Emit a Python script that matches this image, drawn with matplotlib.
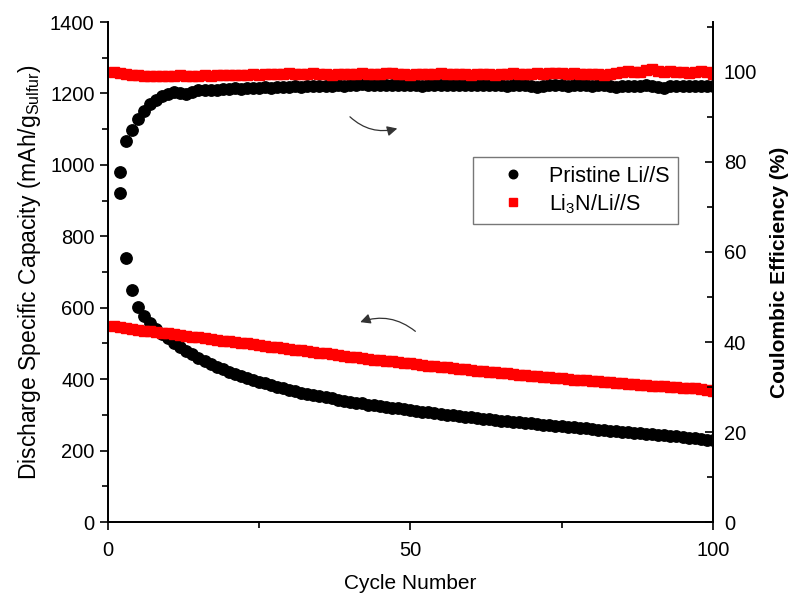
import matplotlib
matplotlib.use("Agg")
from matplotlib import pyplot as plt
from matplotlib.ticker import MultipleLocator
import numpy as np

plt.rcParams['font.family'] = ['Liberation Sans', 'DejaVu Sans']
plt.rcParams['mathtext.fontset'] = 'custom'
plt.rcParams['mathtext.rm'] = 'Liberation Sans'
plt.rcParams['mathtext.it'] = 'Liberation Sans'

# capacity (mAh/g) - pristine starts at cycle 2
pristine_cap = [980, 740, 650, 603, 578, 558, 541, 527, 514, 502, 491, 480, 470, 460, 451,
                443, 435, 428, 421, 415, 409, 403, 398, 393, 388, 383, 378, 374, 370, 366,
                362, 359, 355, 352, 349, 346, 343, 340, 337, 334, 332, 329, 327, 324, 322,
                320, 318, 316, 314, 311, 309, 307, 305, 303, 301, 299, 297, 295, 293, 291,
                289, 288, 286, 284, 283, 281, 279, 277, 276, 274, 272, 271, 269, 268, 266,
                265, 263, 262, 260, 259, 257, 256, 254, 253, 251, 250, 249, 247, 246, 244,
                243, 241, 240, 238, 236, 235, 233, 231, 229]
li3n_cap = [548, 546, 543, 541, 538, 536, 534, 532, 530, 528, 526, 523, 521, 519, 517,
            515, 512, 510, 508, 506, 504, 502, 500, 498, 495, 493, 491, 489, 487, 485,
            483, 481, 479, 477, 474, 472, 470, 468, 466, 463, 461, 459, 457, 455, 453,
            451, 450, 448, 446, 444, 443, 441, 438, 436, 434, 433, 431, 429, 428, 426,
            424, 423, 421, 419, 418, 416, 414, 413, 411, 410, 408, 407, 405, 404, 402,
            401, 399, 398, 397, 395, 394, 392, 391, 390, 388, 387, 386, 385, 383, 382,
            381, 380, 378, 377, 376, 375, 374, 372, 370, 368]

# coulombic efficiency (%)
pristine_ce = [73.0, 84.7, 87.1, 89.5, 91.3, 92.8, 93.8, 94.6, 95.1, 95.6, 95.4, 95.2, 95.6, 95.9, 96.0,
               96.1, 96.1, 96.2, 96.3, 96.4, 96.3, 96.4, 96.5, 96.4, 96.6, 96.5, 96.7, 96.6, 96.7, 96.8,
               96.7, 96.8, 96.9, 96.8, 96.9, 96.9, 97.0, 96.9, 97.1, 97.2, 97.3, 97.1, 97.0, 97.1, 97.0,
               97.1, 97.0, 97.0, 97.1, 97.0, 96.9, 97.0, 97.1, 97.0, 97.1, 97.2, 97.1, 97.0, 97.1, 97.0,
               97.2, 97.0, 97.1, 97.0, 96.9, 97.0, 97.1, 97.0, 96.9, 96.6, 96.8, 97.0, 97.1, 97.0, 96.9,
               97.0, 97.1, 97.0, 96.8, 97.0, 97.1, 96.9, 96.7, 96.8, 96.9, 96.8, 96.9, 97.0, 96.9, 96.7,
               96.5, 96.8, 96.9, 96.8, 96.9, 96.8, 96.9, 96.8, 96.9]
li3n_ce = [100.0, 99.7, 99.5, 99.4, 99.3, 99.2, 99.2, 99.1, 99.2, 99.1, 99.2, 99.3, 99.2, 99.1, 99.2,
           99.3, 99.2, 99.3, 99.4, 99.3, 99.4, 99.3, 99.4, 99.5, 99.4, 99.5, 99.6, 99.5, 99.6, 99.7,
           99.6, 99.5, 99.6, 99.7, 99.6, 99.5, 99.4, 99.5, 99.6, 99.5, 99.6, 99.7, 99.6, 99.5, 99.6,
           99.7, 99.8, 99.6, 99.5, 99.4, 99.5, 99.6, 99.5, 99.6, 99.7, 99.6, 99.5, 99.6, 99.5, 99.4,
           99.5, 99.6, 99.5, 99.4, 99.5, 99.6, 99.7, 99.6, 99.5, 99.6, 99.7, 99.6, 99.7, 99.8, 99.7,
           99.6, 99.7, 99.6, 99.5, 99.6, 99.5, 99.4, 99.6, 99.8, 99.9, 100.3, 100.1, 99.9, 100.4, 100.6,
           100.2, 100.0, 100.3, 100.1, 99.9, 99.8, 100.0, 100.2, 100.0, 99.6]

pristine_x = np.arange(2, 2 + len(pristine_cap))
li3n_x = np.arange(1, 1 + len(li3n_cap))

fig = plt.figure(figsize=(7.92, 5.97), dpi=100)
ax = fig.add_axes([0.136, 0.1256, 0.764, 0.8375])
ax2 = ax.twinx()

ax.plot(pristine_x, pristine_cap, 'o', color='black', markersize=8.2, label='Pristine Li//S')
ax.plot(li3n_x, li3n_cap, 's', color='#ff0000', markersize=7.8, label='Li$_3$N/Li//S')
ax2.plot(pristine_x, pristine_ce, 'o', color='black', markersize=8.2)
ax2.plot(li3n_x, li3n_ce, 's', color='#ff0000', markersize=7.8)

ax.set_xlim(0, 100)
ax.set_ylim(0, 1400)
ax2.set_ylim(0, 111.1)
ax.xaxis.set_major_locator(MultipleLocator(50))
ax.xaxis.set_minor_locator(MultipleLocator(25))
ax.yaxis.set_major_locator(MultipleLocator(200))
ax.yaxis.set_minor_locator(MultipleLocator(100))
ax2.yaxis.set_minor_locator(MultipleLocator(10))
ax2.set_yticks(np.arange(0, 101, 20))

for a in (ax, ax2):
    a.spines['top'].set_visible(False)
    for s in a.spines.values():
        s.set_linewidth(1.3)

ax.tick_params(axis='both', which='major', direction='out', length=6, width=1.2, labelsize=14.5)
ax.tick_params(axis='both', which='minor', direction='out', length=4, width=1.2)
ax.tick_params(axis='x', which='major', pad=8)
ax.tick_params(axis='y', which='both', right=False)
ax2.tick_params(axis='y', which='major', direction='in', length=6, width=1.2, labelsize=14.5, pad=8)
ax2.tick_params(axis='y', which='minor', direction='in', length=4, width=1.2)

ax.set_xlabel('Cycle Number', fontsize=15, labelpad=10)
ax.set_ylabel('Discharge Specific Capacity (mAh/g$_{\\mathrm{Sulfur}}$)', fontsize=16.5, labelpad=5)
ax2.set_ylabel('Coulombic Efficiency (%)', fontsize=15, fontweight='bold', labelpad=9)

leg = ax.legend(loc='upper left', bbox_to_anchor=(0.603, 0.73), borderaxespad=0, fontsize=15.5,
                fancybox=False, edgecolor='#777777', framealpha=1, markerscale=0.75,
                handlelength=3.0, handletextpad=0.15, borderpad=0.4, labelspacing=0.25)
leg.get_frame().set_linewidth(1.0)

ax.annotate('', xy=(48.3, 1104), xytext=(39.7, 1140),
            arrowprops=dict(arrowstyle='-|>', color='#333333', lw=0.9,
                            connectionstyle='arc3,rad=0.3', mutation_scale=15))
ax.annotate('', xy=(41.3, 557), xytext=(51.2, 529),
            arrowprops=dict(arrowstyle='-|>', color='#333333', lw=0.9,
                            connectionstyle='arc3,rad=0.3', mutation_scale=15))

fig.savefig('out.png', dpi=100)
